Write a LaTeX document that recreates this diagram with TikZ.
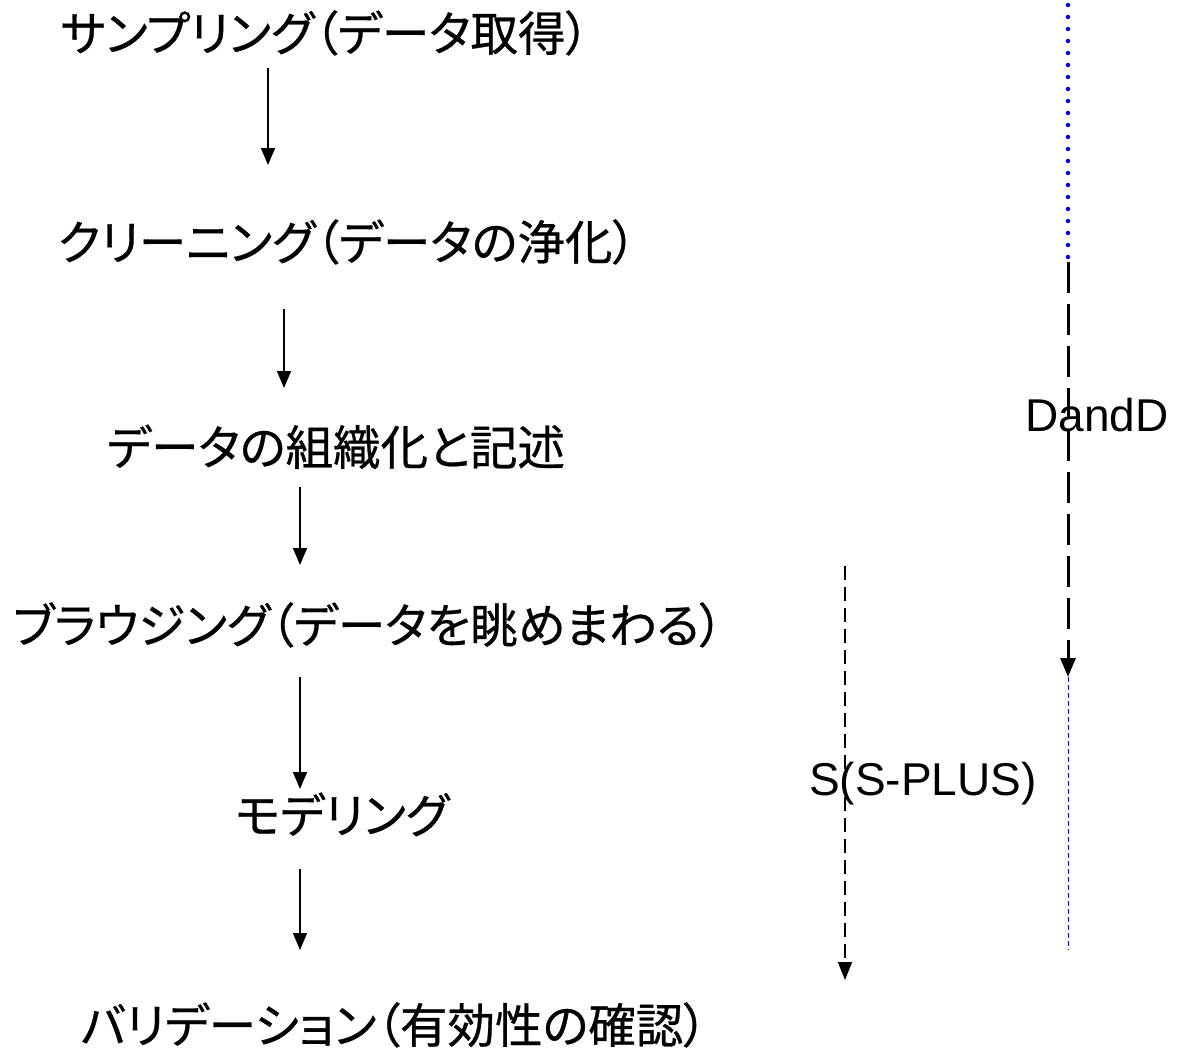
\documentclass[tikz,border=0pt]{standalone}
\usepackage{fontspec}
\setmainfont{Liberation Sans}
\newfontfamily\jp[RawFeature=+palt,FakeBold=0.6]{Noto Sans CJK JP}
\usetikzlibrary{arrows.meta}
\begin{document}
\begin{tikzpicture}[x=1pt,y=-1pt,
  jtext/.style={anchor=base,inner sep=0pt,font=\jp\fontsize{47.5}{52}\selectfont},
  ltext/.style={anchor=base,inner sep=0pt,font=\fontsize{46}{52}\selectfont},
  flow/.style={line width=1.5pt,-{Triangle[length=17pt,width=14pt]}},
  dotblue/.style={blue,line width=4.5pt,line cap=round,dash pattern=on 0pt off 12pt},
  bigdash/.style={line width=3pt,dash pattern=on 31pt off 11pt,-{Triangle[length=19pt,width=15pt]}},
  thinblue/.style={blue,line width=1pt,dash pattern=on 5pt off 3pt},
  sdash/.style={line width=1.8pt,dash pattern=on 14pt off 7pt,-{Triangle[length=18pt,width=14pt]}}
]
\useasboundingbox (0,0) rectangle (1179,1050);
\node[jtext] (t1) at (325,51) {サンプリング（データ取得）};
\node[jtext] (t2) at (347,260) {クリーニング（データの浄化）};
\node[jtext] (t3) at (336,465) {データの組織化と記述};
\node[jtext] (t4) at (368,643) {ブラウジング（データを眺めまわる）};
\node[jtext] (t5) at (342,833) {モデリング};
\node[jtext] (t6) at (394,1043) {バリデーション（有効性の確認）};
\node[ltext] (dd) at (1097,431) {DandD};
\node[ltext] (sp) at (923,795) {S(S-PLUS)};
% main flow arrows
\coordinate (a1s) at (268,68);  \coordinate (a1e) at (268,165);
\coordinate (a2s) at (284,309); \coordinate (a2e) at (284,388);
\coordinate (a3s) at (300,487); \coordinate (a3e) at (300,565);
\coordinate (a4s) at (300,677); \coordinate (a4e) at (300,789);
\coordinate (a5s) at (300,869); \coordinate (a5e) at (300,950);
\draw[flow] (a1s) -- (a1e);
\draw[flow] (a2s) -- (a2e);
\draw[flow] (a3s) -- (a3e);
\draw[flow] (a4s) -- (a4e);
\draw[flow] (a5s) -- (a5e);
% right column
\coordinate (b0) at (1068,5);
\coordinate (b1) at (1068,268);
\coordinate (b2) at (1068,262);
\coordinate (b3) at (1068,677);
\coordinate (b4) at (1068,950);
\draw[dotblue] (b0) -- (b1);
\draw[bigdash] (b2) -- (b3);
\draw[thinblue] (b3) -- (b4);
% S line
\coordinate (s0) at (845,566);
\coordinate (s1) at (845,980);
\draw[sdash] (s0) -- (s1);
\end{tikzpicture}
\end{document}
